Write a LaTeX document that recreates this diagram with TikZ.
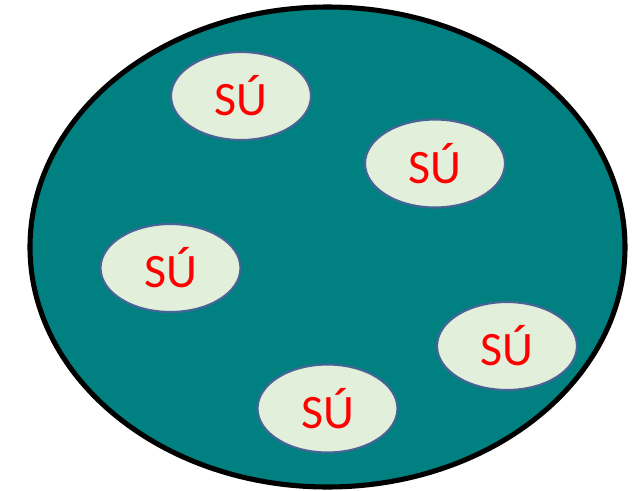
\documentclass[tikz,border=0pt]{standalone}
\usepackage{fontspec}
\setmainfont{Carlito}
\usetikzlibrary{shapes.geometric}

\definecolor{cellteal}{RGB}{0,128,128}
\definecolor{unitfill}{RGB}{226,239,218}
\definecolor{unitline}{RGB}{70,100,150}

\tikzset{
  subunit/.style={ellipse, draw=unitline, line width=1.6pt, fill=unitfill,
    minimum width=105pt, minimum height=66pt, inner sep=0pt,
    text=red, font=\fontsize{36}{40}\selectfont}
}

\begin{document}
\begin{tikzpicture}[x=0.75pt, y=-0.75pt]
  \useasboundingbox (0,0) rectangle (633,490);

  % Outer cell
  \draw[line width=3.8pt, fill=cellteal] (327.5,247) ellipse (297.5 and 240);

  % Subunits
  \node[subunit] (su1) at (241,96)    {SÚ};
  \node[subunit] (su2) at (435,163.5) {SÚ};
  \node[subunit] (su3) at (170.5,268) {SÚ};
  \node[subunit] (su4) at (507,346)   {SÚ};
  \node[subunit] (su5) at (327.5,408.5) {SÚ};
\end{tikzpicture}
\end{document}
